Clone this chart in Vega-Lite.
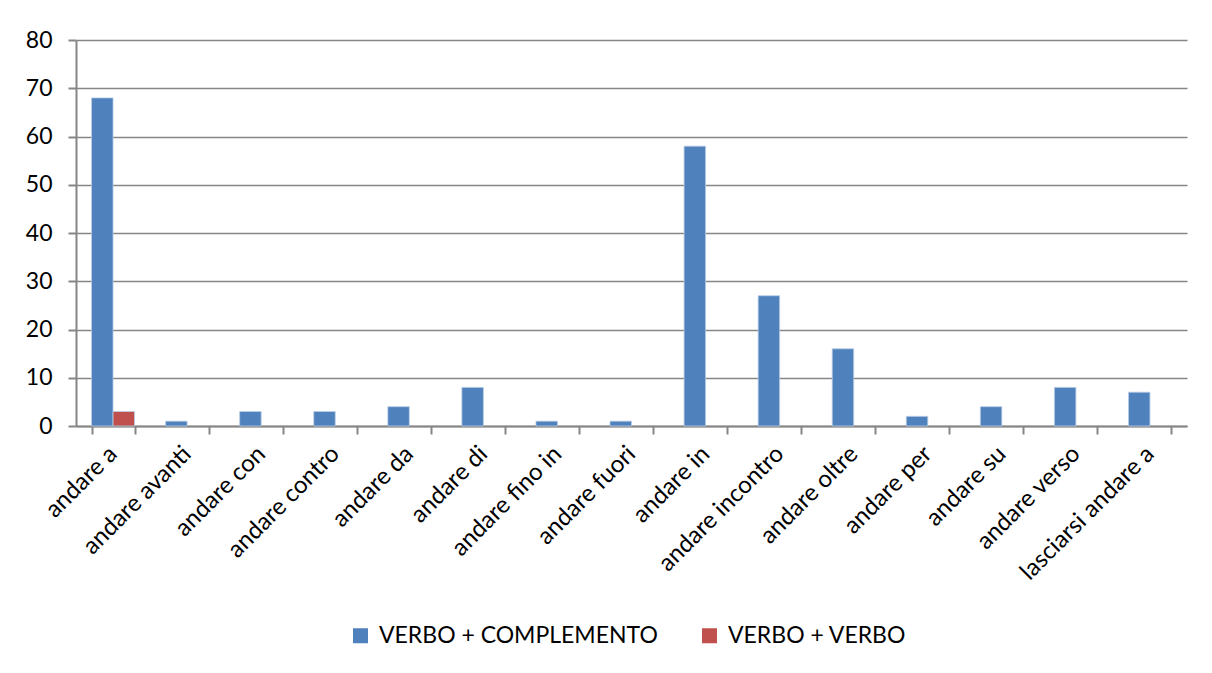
{
  "$schema": "https://vega.github.io/schema/vega-lite/v6.json",
  "width": 1111,
  "height": 386,
  "autosize": "none",
  "padding": {"left": 76, "top": 40, "right": 25, "bottom": 247},
  "background": "white",
  "data": {
    "values": [
      {"cat": "andare a", "serie": "VERBO + COMPLEMENTO", "val": 68},
      {"cat": "andare a", "serie": "VERBO + VERBO", "val": 3},
      {"cat": "andare avanti", "serie": "VERBO + COMPLEMENTO", "val": 1},
      {"cat": "andare con", "serie": "VERBO + COMPLEMENTO", "val": 3},
      {"cat": "andare contro", "serie": "VERBO + COMPLEMENTO", "val": 3},
      {"cat": "andare da", "serie": "VERBO + COMPLEMENTO", "val": 4},
      {"cat": "andare di", "serie": "VERBO + COMPLEMENTO", "val": 8},
      {"cat": "andare fino in", "serie": "VERBO + COMPLEMENTO", "val": 1},
      {"cat": "andare fuori", "serie": "VERBO + COMPLEMENTO", "val": 1},
      {"cat": "andare in", "serie": "VERBO + COMPLEMENTO", "val": 58},
      {"cat": "andare incontro", "serie": "VERBO + COMPLEMENTO", "val": 27},
      {"cat": "andare oltre", "serie": "VERBO + COMPLEMENTO", "val": 16},
      {"cat": "andare per", "serie": "VERBO + COMPLEMENTO", "val": 2},
      {"cat": "andare su", "serie": "VERBO + COMPLEMENTO", "val": 4},
      {"cat": "andare verso", "serie": "VERBO + COMPLEMENTO", "val": 8},
      {"cat": "lasciarsi andare a", "serie": "VERBO + COMPLEMENTO", "val": 7}
    ]
  },
  "mark": {"type": "bar", "stroke": "#b9cde5", "strokeWidth": 0.8},
  "encoding": {
    "x": {
      "field": "cat",
      "type": "nominal",
      "sort": null,
      "scale": {"paddingInner": 0.42, "paddingOuter": 0.21},
      "axis": {
        "title": null,
        "labelAngle": -45,
        "labelAlign": "right",
        "labelBaseline": "middle",
        "labelFont": "Lato",
        "labelFontSize": 24,
        "labelColor": "#000000",
        "labelPadding": 16,
        "labelLimit": 0,
        "tickBand": "extent",
        "tickSize": 8,
        "tickColor": "#868686",
        "tickWidth": 2,
        "domainColor": "#868686",
        "domainWidth": 2,
        "grid": false
      }
    },
    "xOffset": {"field": "serie", "type": "nominal", "scale": {"domain": ["VERBO + COMPLEMENTO", "VERBO + VERBO"], "paddingInner": 0, "paddingOuter": 0}},
    "y": {
      "field": "val",
      "type": "quantitative",
      "scale": {"domain": [0, 80], "nice": false},
      "axis": {
        "title": null,
        "values": [0, 10, 20, 30, 40, 50, 60, 70, 80],
        "labelFont": "Lato",
        "labelFontSize": 23,
        "labelColor": "#000000",
        "labelPadding": 16,
        "tickSize": 8,
        "tickColor": "#868686",
        "tickWidth": 2,
        "domainColor": "#868686",
        "domainWidth": 2,
        "gridColor": "#868686",
        "gridWidth": 1.5
      }
    },
    "color": {
      "field": "serie",
      "type": "nominal",
      "scale": {"domain": ["VERBO + COMPLEMENTO", "VERBO + VERBO"], "range": ["#4F81BD", "#C0504D"]},
      "legend": {
        "title": null,
        "orient": "none",
        "legendX": 273,
        "legendY": 584,
        "direction": "horizontal",
        "symbolType": "square",
        "symbolSize": 225,
        "symbolStrokeWidth": 0,
        "labelFont": "Lato",
        "labelFontSize": 23,
        "labelLimit": 0,
        "labelColor": "#000000",
        "columnPadding": 40,
        "labelOffset": 7
      }
    }
  },
  "config": {"view": {"stroke": null}}
}
